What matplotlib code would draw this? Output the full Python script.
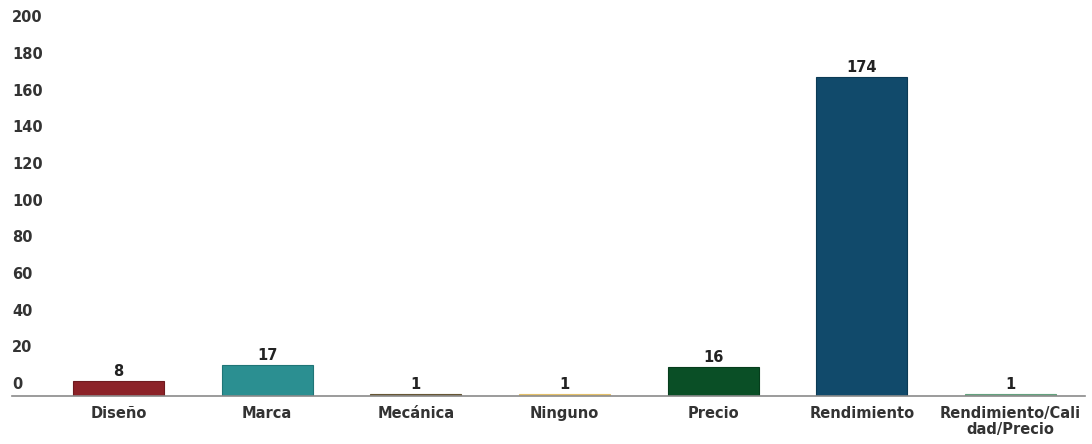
import matplotlib.pyplot as plt
import matplotlib.transforms as mtransforms

categorias = ['Diseño', 'Marca', 'Mecánica', 'Ninguno', 'Precio',
              'Rendimiento', 'Rendimiento/Cali\ndad/Precio']
valores = [8, 17, 1, 1, 16, 174, 1]
colores = ['#8c2228', '#2b8f91', '#7f6c45', '#f1d184', '#0a4f26',
           '#114a6b', '#7fbd98']
bordes = ['#6e1a1f', '#1f7577', '#665634', '#e4c06a', '#063d1c',
          '#0b3a55', '#64a27e']
yticks = list(range(0, 201, 20))

plt.rcParams['font.family'] = ['DejaVu Sans']

fig = plt.figure(figsize=(10.92, 4.44), dpi=100)
ax = fig.add_axes([12 / 1092, 48 / 444, (1085 - 12) / 1092, (396 - 29.4) / 444])

x = range(len(categorias))
bars = ax.bar(x, valores, width=0.612, color=colores, edgecolor=bordes,
              linewidth=0.8, zorder=2)

for b, v in zip(bars, valores):
    ax.annotate(str(v), (b.get_x() + b.get_width() / 2, b.get_height()),
                xytext=(0, 1.5), textcoords='offset points', ha='center',
                va='bottom', fontsize=10.5, fontweight='bold', color='#222222')

ax.set_xlim(-0.716, 6.5)
ax.set_ylim(0, 200)

ax.set_xticks(list(x))
ax.set_xticklabels(categorias, fontsize=10.5, fontweight='bold',
                   color='#333333', linespacing=1.1)
ax.tick_params(axis='x', length=0, pad=7)

ax.set_yticks(yticks)
ax.set_yticklabels([str(t) for t in yticks], fontsize=10.5, fontweight='bold',
                   color='#333333')
ax.tick_params(axis='y', length=0, pad=0)
offset = mtransforms.ScaledTranslation(0, 7 / 100, fig.dpi_scale_trans)
for lab in ax.get_yticklabels():
    lab.set_horizontalalignment('left')
    lab.set_verticalalignment('baseline')
    lab.set_transform(lab.get_transform() + offset)

for s in ['top', 'right', 'left']:
    ax.spines[s].set_visible(False)
ax.spines['bottom'].set_color('#8a8a8a')
ax.spines['bottom'].set_linewidth(1.2)

fig.savefig('out.png', dpi=100)
